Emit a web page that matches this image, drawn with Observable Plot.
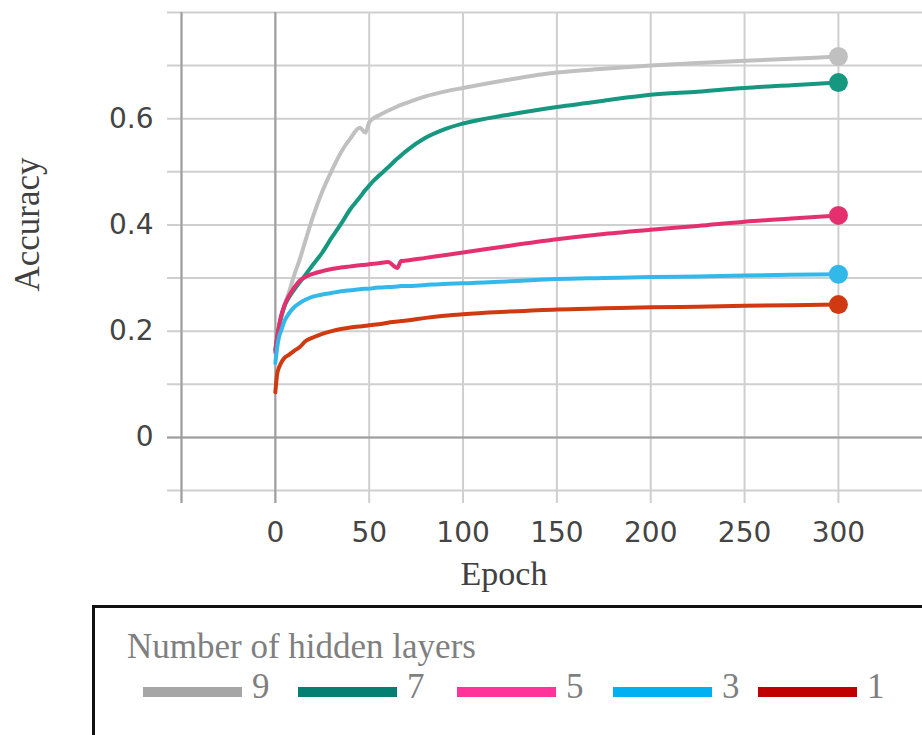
<!DOCTYPE html>
<html>
<head>
<meta charset="utf-8">
<script src="https://cdn.jsdelivr.net/npm/d3@7"></script>
<script src="https://cdn.jsdelivr.net/npm/@observablehq/plot@0.6"></script>
<style>
  html, body { margin: 0; padding: 0; background: #fff; overflow: hidden; }
  #chart svg { display: block; }
  #legend { position: relative; width: 922px; height: 135px; overflow: hidden; font-family: "Liberation Serif", "Times New Roman", serif; }
  #legend .box { position: absolute; left: 92px; top: 5px; right: -20px; bottom: -20px; border-top: 3px solid #111; border-left: 3px solid #111; }
  #legend .title { position: absolute; left: 127px; top: 29px; font-size: 35px; line-height: 35px; color: #7f7f7f; white-space: nowrap; }
  #legend .sw { position: absolute; top: 87px; width: 99px; height: 10px; }
  #legend .lab { position: absolute; top: 69px; font-size: 35px; line-height: 35px; color: #7f7f7f; }
</style>
</head>
<body>
<div id="chart"></div>
<div id="legend"></div>
<script>
const epochs = [0,1,2,3,5,7,10,13,16,20,25,30,35,40,45,48,50,52,55,60,65,67,70,80,90,100,125,150,175,200,225,250,275,300];
const layers = ["9","7","5","3","1"];
const acc9 = [0.165,0.19,0.21,0.225,0.25,0.27,0.305,0.335,0.37,0.415,0.463,0.502,0.537,0.563,0.583,0.574,0.593,0.6,0.606,0.615,0.623,0.626,0.63,0.642,0.651,0.658,0.674,0.687,0.694,0.700,0.705,0.709,0.713,0.717];
const acc7 = [0.165,0.19,0.21,0.225,0.248,0.262,0.278,0.292,0.306,0.325,0.348,0.376,0.402,0.43,0.452,0.466,0.474,0.482,0.492,0.508,0.525,0.531,0.54,0.564,0.58,0.591,0.608,0.622,0.634,0.645,0.651,0.658,0.663,0.668];
const acc5 = [0.16,0.19,0.21,0.228,0.25,0.265,0.282,0.295,0.302,0.308,0.313,0.317,0.32,0.322,0.324,0.325,0.326,0.327,0.328,0.33,0.319,0.332,0.333,0.338,0.343,0.348,0.361,0.373,0.383,0.391,0.398,0.406,0.412,0.418];
const acc3 = [0.14,0.17,0.19,0.2,0.22,0.232,0.245,0.253,0.259,0.265,0.269,0.272,0.275,0.277,0.279,0.28,0.28,0.281,0.282,0.283,0.284,0.285,0.285,0.287,0.289,0.29,0.294,0.298,0.3,0.302,0.303,0.305,0.306,0.307];
const acc1 = [0.085,0.12,0.132,0.14,0.15,0.155,0.163,0.17,0.181,0.188,0.195,0.2,0.204,0.207,0.209,0.21,0.211,0.212,0.213,0.216,0.218,0.219,0.22,0.225,0.229,0.232,0.237,0.241,0.243,0.245,0.246,0.248,0.249,0.25];
const seriesValues = [acc9, acc7, acc5, acc3, acc1];
const lineColors = ["#c0c0c0", "#16977f", "#e5306f", "#33b8ea", "#cf3a10"];
const swatchColors = ["#a6a6a6", "#047f71", "#ff3399", "#00b0f0", "#c00000"];
const gridX = [-50, 0, 50, 100, 150, 200, 250, 300];
const gridY = [-0.1, 0, 0.1, 0.2, 0.3, 0.4, 0.5, 0.6, 0.7, 0.8];
const xTickLabels = [0, 50, 100, 150, 200, 250, 300];
const yTickLabels = [0, 0.2, 0.4, 0.6];
const xTitle = "Epoch";
const yTitle = "Accuracy";
const legendTitle = "Number of hidden layers";

const rows = layers.flatMap((l, i) => epochs.map((e, j) => ({layers: l, epoch: e, acc: seriesValues[i][j]})));
const lastRows = layers.map((l, i) => ({layers: l, epoch: epochs[epochs.length - 1], acc: seriesValues[i][epochs.length - 1]}));

const serif = "'Liberation Serif', 'Times New Roman', serif";
const chart = Plot.plot({
  width: 922,
  height: 600,
  marginLeft: 181,
  marginRight: 0,
  marginTop: 12,
  marginBottom: 110,
  x: {domain: [-50, 344.8], label: null},
  y: {domain: [-0.1, 0.8], label: null},
  color: {domain: layers, range: lineColors},
  style: {background: "#fff", color: "#444", fontFamily: "'DejaVu Sans', Arial, sans-serif", fontSize: "28px", overflow: "visible"},
  marks: [
    Plot.ruleY(gridY, {stroke: "#cfcfcf", strokeWidth: 2, insetLeft: -14}),
    Plot.ruleX(gridX, {stroke: "#cfcfcf", strokeWidth: 2, insetBottom: -13}),
    Plot.ruleX([-50, 0], {stroke: "#9e9e9e", strokeWidth: 2, insetBottom: -13}),
    Plot.ruleY([0], {stroke: "#9e9e9e", strokeWidth: 2, insetLeft: -14}),
    Plot.axisX({ticks: xTickLabels, tickSize: 0, tickPadding: 32, fontSize: 28, label: null, tickFormat: d => String(d)}),
    Plot.axisY({ticks: yTickLabels, tickSize: 0, tickPadding: 28, fontSize: 28, label: null, tickFormat: d => d === 0 ? "0" : d.toFixed(1)}),
    Plot.line(rows, {x: "epoch", y: "acc", z: "layers", stroke: "layers", strokeWidth: 4, curve: "monotone-x", strokeLinejoin: "round", strokeLinecap: "round"}),
    Plot.dot(lastRows, {x: "epoch", y: "acc", fill: "layers", r: 9.5}),
    Plot.text([xTitle], {frameAnchor: "bottom", lineAnchor: "middle", textAnchor: "middle", dx: -48, dy: 84, fontSize: 34, fontFamily: serif, fill: "#404040"}),
    Plot.text([yTitle], {frameAnchor: "left", lineAnchor: "middle", textAnchor: "middle", rotate: -90, dx: -154, dy: -27, fontSize: 35, fontFamily: serif, fill: "#404040"})
  ]
});
document.getElementById("chart").appendChild(chart);

// legend
const legend = document.getElementById("legend");
const box = document.createElement("div"); box.className = "box"; legend.appendChild(box);
const t = document.createElement("div"); t.className = "title"; t.textContent = legendTitle; legend.appendChild(t);
const itemLefts = [143, 298, 457, 613, 758];
layers.forEach((l, i) => {
  const sw = document.createElement("div");
  sw.className = "sw";
  sw.style.left = itemLefts[i] + "px";
  sw.style.background = swatchColors[i];
  legend.appendChild(sw);
  const lab = document.createElement("div");
  lab.className = "lab";
  lab.style.left = (itemLefts[i] + 99 + 10) + "px";
  lab.textContent = l;
  legend.appendChild(lab);
});
</script>
</body>
</html>
